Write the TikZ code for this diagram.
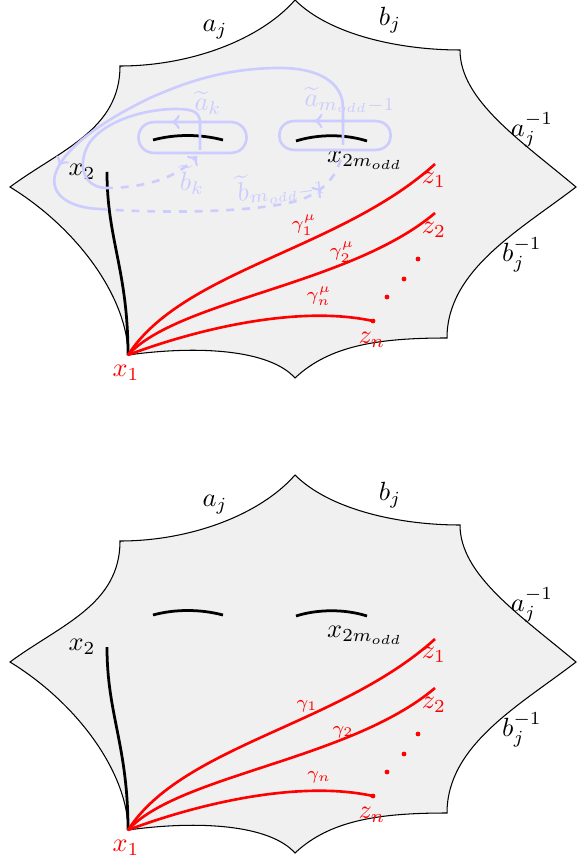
\documentclass[tikz,border=0pt]{standalone}
\usetikzlibrary{decorations.markings}
\begin{document}
\begin{tikzpicture}[x=0.38pt,y=-0.38pt,
  surf/.style={draw=black,fill=black!6,line width=0.4pt},
  holearc/.style={line width=1.05pt},
  redpath/.style={red,line width=1pt},
  bluepath/.style={blue!20,line width=1pt},
  bluelbl/.style={text=blue!20,inner sep=0pt},
  lbl/.style={inner sep=0pt},
  redlbl/.style={text=red,inner sep=0pt},
  glbl/.style={text=red,inner sep=0pt,font=\scriptsize},
  midarrow/.style={postaction={decorate,decoration={markings,mark=at position #1 with {\arrow{>}}}}}
]
\path[use as bounding box] (0,0) rectangle (576,867);

\newcommand\panelbase[1]{%
 \path[surf] (295,0) .. controls (330,35) and (400,50) .. (460,50)
   .. controls (460,100) and (520,140) .. (576,187)
   .. controls (520,230) and (447,270) .. (447,338)
   .. controls (380,338) and (330,345) .. (295,378)
   .. controls (270,350) and (200,345) .. (128,355)
   .. controls (128,300) and (80,230) .. (10,187)
   .. controls (60,150) and (120,130) .. (120,66)
   .. controls (190,66) and (260,40) .. (295,0) -- cycle;
 \draw[holearc] (153,140) .. controls (175,134) and (200,134) .. (223,140);
 \draw[holearc] (296,141) .. controls (318,134) and (345,134) .. (367,141);
 \coordinate (x1#1) at (128,355);
 \coordinate (x2#1) at (107,172);
 \coordinate (z1#1) at (435,164);
 \coordinate (z2#1) at (435,213);
 \coordinate (zn#1) at (373,321);
 \draw[holearc] (x2#1) .. controls (107,240) and (128,270) .. (x1#1);
 \draw[redpath] (x1#1) .. controls (183,270) and (340,250) .. (z1#1);
 \draw[redpath] (x1#1) .. controls (178,300) and (350,285) .. (z2#1);
 \draw[redpath] (x1#1) .. controls (200,328) and (300,305) .. (zn#1);
 \fill[red] (zn#1) circle[radius=2.4];
 \fill[red] (418,259) circle[radius=2.4];
 \fill[red] (404,279) circle[radius=2.4];
 \fill[red] (387,297) circle[radius=2.4];
 \node[lbl] (aj#1) at (215,30) {$a_j$};
 \node[lbl] (bj#1) at (390,20) {$b_j$};
 \node[lbl] (ajinv#1) at (532,130) {$a_j^{-1}$};
 \node[lbl] (bjinv#1) at (522,255) {$b_j^{-1}$};
 \node[lbl] (lx2#1) at (82,172) {$x_2$};
 \node[lbl] (lx2m#1) at (365,160) {$x_{2m_{odd}}$};
 \node[redlbl] (lz1#1) at (434,180) {$z_1$};
 \node[redlbl] (lz2#1) at (434,230) {$z_2$};
 \node[redlbl] (lzn#1) at (372,340) {$z_n$};
 \node[redlbl] (lx1#1) at (126,373) {$x_1$};
}

% ---------- top panel ----------
\begin{scope}
\panelbase{t}
% a-loops
\draw[bluepath,midarrow=0.08] (192,122) -- (155,122) .. controls (133,122) and (133,153) .. (155,153)
  -- (230,153) .. controls (252,153) and (252,122) .. (230,122) -- cycle;
\draw[bluepath,midarrow=0.08] (335,121) -- (295,121) .. controls (274,121) and (274,150) .. (295,150)
  -- (375,150) .. controls (396,150) and (396,121) .. (375,121) -- cycle;
% b_k
\draw[bluepath] (200,150) -- (200,123) .. controls (200,110) and (190,109) .. (173,109)
  .. controls (140,110) and (105,122) .. (90,142)
  .. controls (78,160) and (80,186) .. (105,188);
\draw[bluepath,dashed,->] (105,188) .. controls (140,188) and (175,180) .. (197,156);
% b_{m_odd-1}
\draw[bluepath,midarrow=0.83] (343,145) -- (343,108) .. controls (343,82) and (318,68) .. (280,68)
  .. controls (230,68) and (190,80) .. (150,98)
  .. controls (100,122) and (62,150) .. (55,175)
  .. controls (50,195) and (70,208) .. (100,209);
\draw[bluepath,dashed,midarrow=0.86] (100,209) .. controls (170,214) and (260,212) .. (300,200)
  .. controls (322,192) and (336,178) .. (341,158);
\node[bluelbl] (tak) at (208,103) {$\widetilde{a}_k$};
\node[bluelbl] (tam) at (350,100) {$\widetilde{a}_{m_{odd}-1}$};
\node[bluelbl] (tbk) at (192,180) {$\widetilde{b}_k$};
\node[bluelbl,rotate=8] (tbm) at (281,186) {$\widetilde{b}_{m_{odd}-1}$};
\node[glbl] (g1t) at (304,225) {$\gamma_1^\mu$};
\node[glbl] (g2t) at (342,252) {$\gamma_2^\mu$};
\node[glbl] (gnt) at (319,296) {$\gamma_n^\mu$};
\end{scope}

% ---------- bottom panel ----------
\begin{scope}[shift={(0,475)}]
\panelbase{b}
\node[glbl] (g1b) at (307,231) {$\gamma_1$};
\node[glbl] (g2b) at (343,257) {$\gamma_2$};
\node[glbl] (gnb) at (319,302) {$\gamma_n$};
\end{scope}
\end{tikzpicture}
\end{document}
